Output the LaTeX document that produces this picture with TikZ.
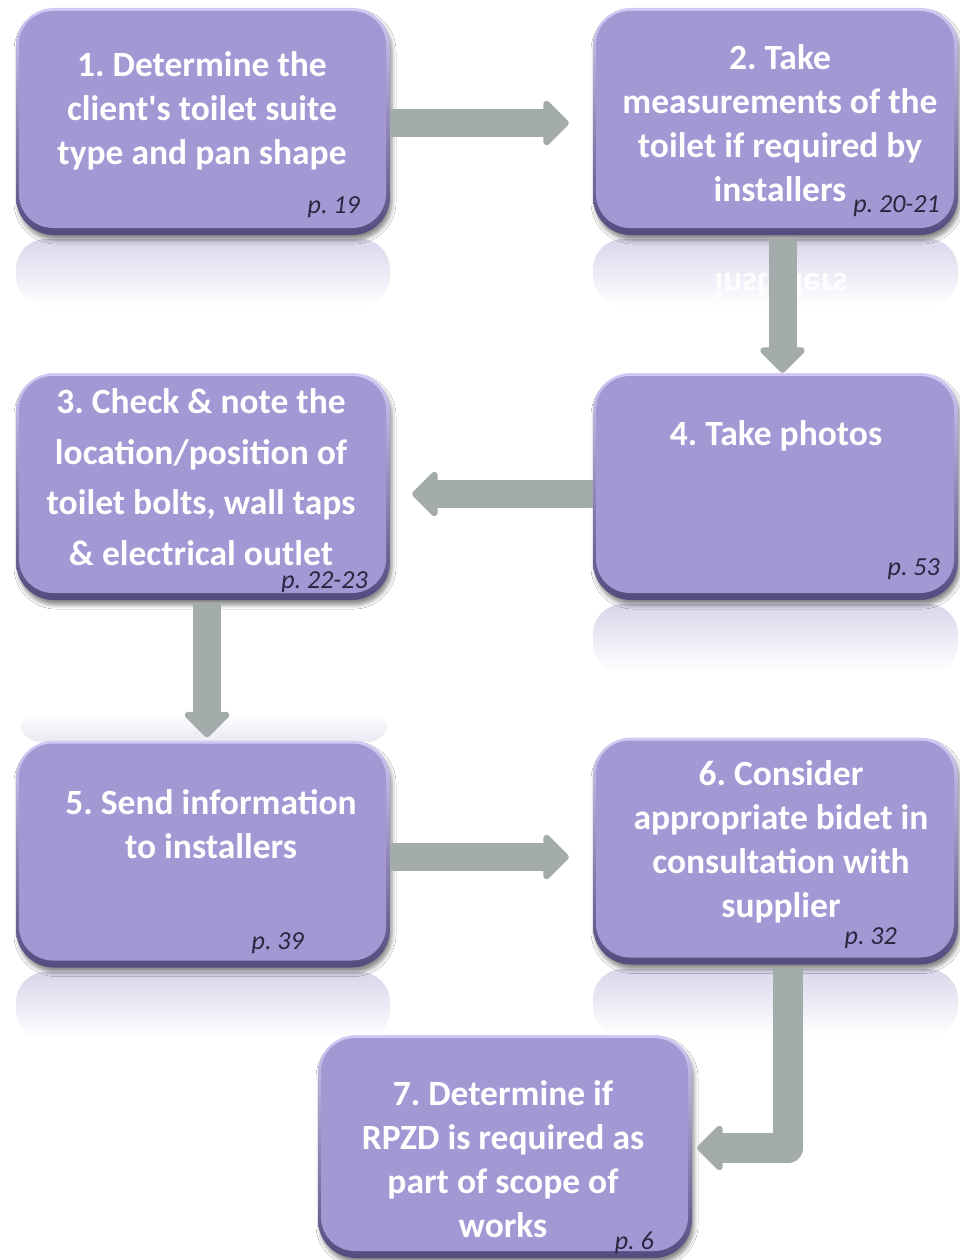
\documentclass[tikz,border=0pt]{standalone}
\usepackage{fontspec}
\setmainfont{Carlito}
\usetikzlibrary{calc,arrows.meta,shadows.blur}
\definecolor{lav}{HTML}{A397D4}
\definecolor{rimtop}{HTML}{D2CAF4}
\definecolor{rimbot}{HTML}{544A7E}
\definecolor{arr}{HTML}{A3ACAB}
\definecolor{pgc}{HTML}{2B2540}
\definecolor{refl}{HTML}{DAD6EB}
\frenchspacing
\tikzset{
  box/.style={rectangle, rounded corners=38pt, inner sep=0pt,
    top color=rimtop, bottom color=rimbot,
    blur shadow={shadow xshift=2pt, shadow yshift=-5pt, shadow opacity=45, shadow blur radius=4pt},
    path picture={\fill[lav, rounded corners=34pt]
      ($(path picture bounding box.north west)+(3,3)$) rectangle
      ($(path picture bounding box.south east)+(-4,-7)$);}},
  bigbox/.style={box, minimum width=374pt, minimum height=227pt},
  rbox/.style={box, minimum width=365pt, minimum height=227pt},
  txt/.style={text=white, font=\bfseries\fontsize{35.5}{44}\selectfont, align=center, inner sep=0pt},
  pgl/.style={text=pgc, font=\itshape\fontsize{26}{30}\selectfont, anchor=base east, inner sep=0pt},
  reflx/.style={top color=refl, bottom color=white, rounded corners=30pt},
  bigarrow/.style={draw=arr, line width=28pt, -{Triangle[length=27pt, width=52pt, round]}},
}
\begin{document}
\begin{tikzpicture}[x=1pt, y=-1pt]
\fill[white] (0,0) rectangle (960,1260);
\useasboundingbox (0,0) rectangle (960,1260);

% reflections
\shade[reflx] (16,239) rectangle (390,306);
\shade[reflx] (593,239) rectangle (958,306);
\shade[reflx] (593,604) rectangle (958,673);
\shade[reflx] (16,972) rectangle (390,1040);
\shade[reflx] (593,969) rectangle (958,1036);
\shade[top color=white, bottom color=refl!55!white, rounded corners=20pt] (20,712) rectangle (388,742);
\begin{scope}[shift={(781,286)}, yscale=-1]
  \node[transform shape, text=white, opacity=0.9, font=\bfseries\fontsize{35.5}{44}\selectfont, inner sep=0pt] (r2) at (0,0) {installers};
\end{scope}

% boxes
\node[bigbox] (b1) at (203,121.5) {};
\node[rbox]   (b2) at (775.5,121.5) {};
\node[bigbox] (b3) at (203,486.5) {};
\node[rbox]   (b4) at (775.5,486.5) {};
\node[bigbox] (b5) at (203,854) {};
\node[rbox]   (b6) at (775.5,851) {};
\node[bigbox, minimum height=223pt] (b7) at (505,1146.5) {};

% texts
\node[txt] (t1) at (202,111) {1. Determine the\\client\textquotesingle s toilet suite\\type and pan shape};
\node[txt] (t2) at (780,123) {2. Take\\measurements of the\\toilet if required by\\installers};
\node[txt, font=\bfseries\fontsize{35.5}{50.5}\selectfont] (t3) at (201,477) {3. Check \& note the\\location/position of\\toilet bolts, wall taps\\\& electrical outlet};
\node[txt] (t4) at (776,436) {4. Take photos};
\node[txt] (t5) at (211,824) {5. Send information\\to installers};
\node[txt] (t6) at (781,842) {6. Consider\\appropriate bidet in\\consultation with\\supplier};
\node[txt] (t7) at (503,1159) {7. Determine if\\RPZD is required as\\part of scope of\\works};

% page labels
\node[pgl] (p1) at (360,213) {p. 19};
\node[pgl] (p2) at (940,212) {p. 20-21};
\node[pgl] (p3) at (368,588) {p. 22-23};
\node[pgl] (p4) at (940,575) {p. 53};
\node[pgl] (p5) at (304,949) {p. 39};
\node[pgl] (p6) at (897,944) {p. 32};
\node[pgl] (p7) at (654,1249) {p. 6};

% connectors
\draw[bigarrow, shorten >=24pt] ($(b1.east)+(0,1.5)$) -- ($(b2.west)+(0,1.5)$);
\draw[bigarrow, shorten <=4pt] ($(b2.south)+(7,0)$) -- ($(b4.north)+(7,0)$);
\draw[bigarrow, shorten >=22pt] ($(b4.west)+(0,7.5)$) -- ($(b3.east)+(0,7.5)$);
\draw[bigarrow, shorten <=3pt, shorten >=3pt] ($(b3.south)+(4,0)$) -- ($(b5.north)+(4,0)$);
\draw[bigarrow, shorten >=24pt] ($(b5.east)+(0,3)$) -- ($(b6.west)+(0,6)$);
\draw[bigarrow, line width=30pt, line join=round, shorten <=3pt, shorten >=5pt] ($(b6.south)+(12.5,0)$) |- ($(b7.east)+(0,1.5)$);
\end{tikzpicture}
\end{document}
